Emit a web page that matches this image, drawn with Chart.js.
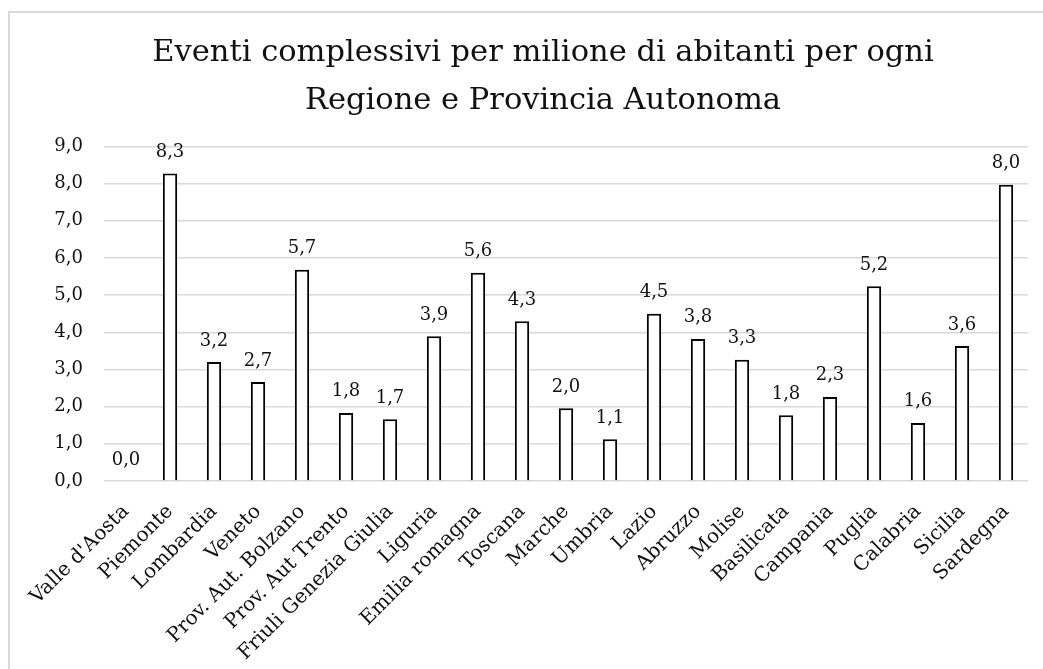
<!DOCTYPE html>
<html>
<head>
<meta charset="utf-8">
<script src="https://cdn.jsdelivr.net/npm/chart.js@4"></script>
<style>
  html, body { margin: 0; padding: 0; overflow: hidden; background: #fff; }
  #frame { position: absolute; left: 8px; top: 11px; width: 1300px; height: 900px;
           border-left: 2px solid #d9d9d9; border-top: 2px solid #d9d9d9; box-sizing: border-box; }
  #wrap { position: absolute; left: 0; top: 0; width: 1086px; height: 669px; }
</style>
</head>
<body>
<div id="frame"></div>
<div id="wrap"><canvas id="c"></canvas></div>
<script>
const categories = ["Valle d'Aosta", "Piemonte", "Lombardia", "Veneto", "Prov. Aut. Bolzano",
  "Prov. Aut Trento", "Friuli Genezia Giulia", "Liguria", "Emilia romagna", "Toscana",
  "Marche", "Umbria", "Lazio", "Abruzzo", "Molise", "Basilicata", "Campania", "Puglia",
  "Calabria", "Sicilia", "Sardegna"];
const eventiPerMilione = [0.0, 8.27, 3.2, 2.66, 5.68, 1.83, 1.66, 3.89, 5.6, 4.3,
  1.96, 1.12, 4.5, 3.82, 3.26, 1.77, 2.26, 5.24, 1.56, 3.63, 7.97];
const titleLines = ["Eventi complessivi per milione di abitanti per ogni", "Regione e Provincia Autonoma"];
const yMin = 0, yMax = 9, yStep = 1;

const SERIF = "'DejaVu Serif', serif";
const fmt = v => Number(v).toFixed(1).replace('.', ',');

const valueLabels = {
  id: 'valueLabels',
  afterDatasetsDraw(chart) {
    const ctx = chart.ctx;
    const meta = chart.getDatasetMeta(0);
    ctx.save();
    ctx.font = "18px " + SERIF;
    ctx.fillStyle = '#111';
    ctx.textAlign = 'center';
    ctx.textBaseline = 'alphabetic';
    meta.data.forEach((bar, i) => {
      const v = chart.data.datasets[0].data[i];
      ctx.fillText(fmt(v), bar.x, bar.y - 16.5);
    });
    ctx.restore();
  }
};

new Chart(document.getElementById('c'), {
  type: 'bar',
  data: {
    labels: categories,
    datasets: [{
      data: eventiPerMilione,
      backgroundColor: '#ffffff',
      borderColor: '#000000',
      borderWidth: 2,
      barPercentage: 0.325,
      categoryPercentage: 1.0
    }]
  },
  options: {
    responsive: true,
    maintainAspectRatio: false,
    animation: false,
    layout: { padding: 0 },
    plugins: {
      legend: { display: false },
      tooltip: { enabled: false },
      title: {
        display: true,
        text: titleLines,
        color: '#111',
        font: { family: SERIF, size: 30.5, weight: 'normal', lineHeight: 1.58 },
        padding: { top: 29, bottom: 21 }
      }
    },
    scales: {
      x: {
        grid: { display: false, drawTicks: false },
        border: { display: false },
        ticks: {
          autoSkip: false,
          minRotation: 45,
          maxRotation: 45,
          padding: 19,
          color: '#111',
          font: { family: SERIF, size: 20 }
        },
        afterFit(scale) { scale.height = 188; }
      },
      y: {
        min: yMin,
        max: yMax,
        ticks: {
          stepSize: yStep,
          padding: 21,
          color: '#111',
          font: { family: SERIF, size: 18 },
          callback: v => fmt(v)
        },
        grid: { color: '#d9d9d9', lineWidth: 1.5, drawTicks: false },
        border: { display: false },
        afterFit(scale) { scale.width = 104; }
      },
      yRight: {
        position: 'right',
        display: true,
        grid: { display: false, drawTicks: false },
        border: { display: false },
        ticks: { display: false },
        afterFit(scale) { scale.width = 58; }
      }
    }
  },
  plugins: [valueLabels]
});
</script>
</body>
</html>
